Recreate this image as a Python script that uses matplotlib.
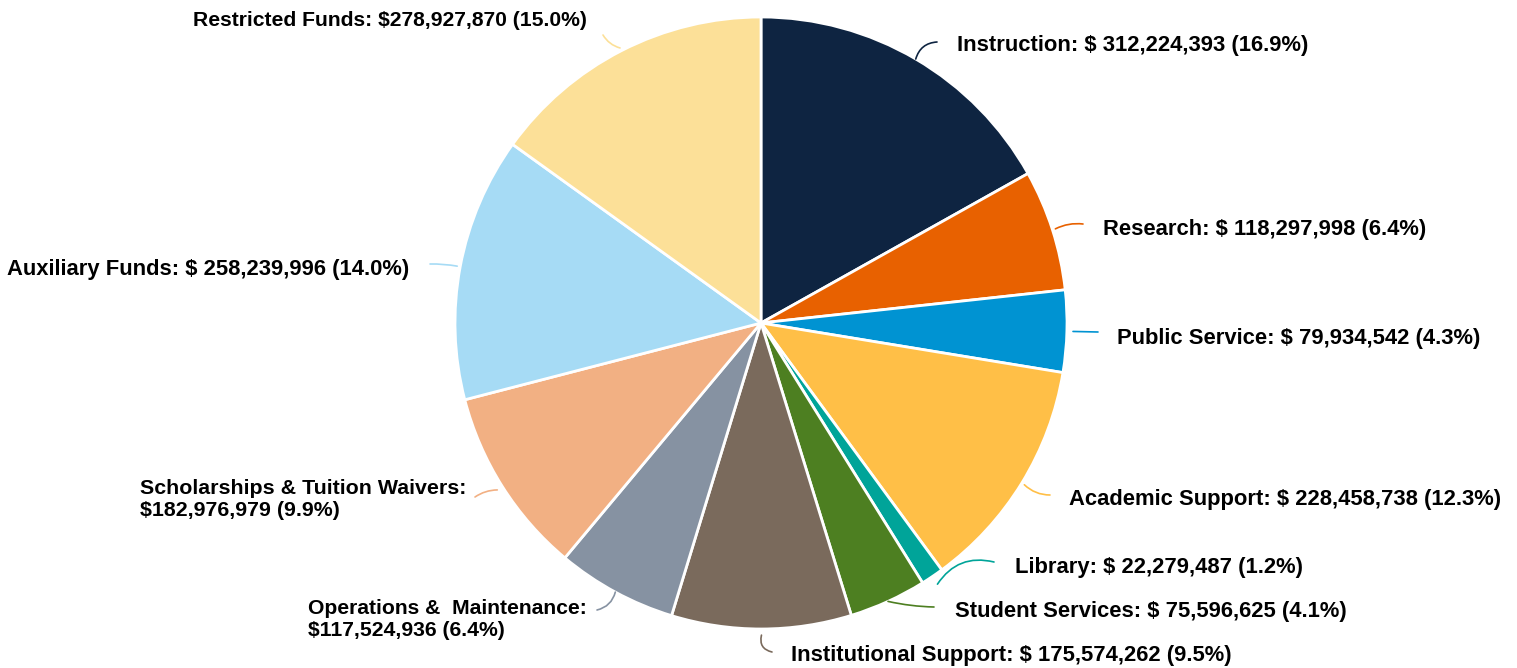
import matplotlib.pyplot as plt
import numpy as np

categories = ['Instruction', 'Research', 'Public Service', 'Academic Support',
              'Library', 'Student Services', 'Institutional Support',
              'Operations &  Maintenance', 'Scholarships & Tuition Waivers',
              'Auxiliary Funds', 'Restricted Funds']
amounts = [312224393, 118297998, 79934542, 228458738, 22279487, 75596625,
           175574262, 117524936, 182976979, 258239996, 278927870]
percents = [16.9, 6.4, 4.3, 12.3, 1.2, 4.1, 9.5, 6.4, 9.9, 14.0, 15.0]
colors = ['#0e2441', '#e86100', '#0093d2', '#ffbf47', '#00a499', '#4d7f21',
          '#7a6a5c', '#8692a2', '#f2b083', '#a6dbf5', '#fce098']

W, H = 1517, 668
cx, cy, R = 761, 323, 306


def px(x, y):
    # pixel position -> data units (pie radius = 1)
    return (x - cx) / R, (cy - y) / R


plt.rcParams['font.family'] = ['Liberation Sans', 'DejaVu Sans']
fig = plt.figure(figsize=(W / 100, H / 100), dpi=100)
ax = fig.add_axes([0, 0, 1, 1])

wedges, _ = ax.pie(amounts, colors=colors, startangle=90, counterclock=False,
                   radius=1, center=(0, 0),
                   wedgeprops=dict(edgecolor='white', linewidth=2))

ax.set_xlim(px(0, 0)[0], px(W, 0)[0])
ax.set_ylim(px(0, H)[1], px(0, 0)[1])
ax.set_aspect('equal')
ax.axis('off')


def money(a, space=True):
    return ('$ ' if space else '$') + f'{a:,}'


sep = [True, True, True, True, True, True, True, False, False, True, False]
texts = []
for i, name in enumerate(categories):
    glue = '\n' if i in (7, 8) else ' '
    texts.append(f'{name}:{glue}{money(amounts[i], sep[i])} ({percents[i]:.1f}%)')

# label anchor (px), horizontal alignment, font size
label_pos = [(957, 45, 'left'), (1103, 229, 'left'), (1117, 338, 'left'),
             (1069, 499, 'left'), (1015, 568, 'left'), (955, 611, 'left'),
             (791, 656, 'left'), (308, 619, 'left'), (140, 499, 'left'),
             (409, 269, 'right'), (587, 20, 'right')]
label_size = [15.8] * 7 + [15.25, 15.4, 15.8, 15.25]
leader_end = [(937, 42), (1083, 224), (1098, 332), (1050, 495), (994, 562),
              (934, 607), (772, 652), (597, 610), (475, 497), (430, 264),
              (603, 35)]
leader_rad = [-0.35, -0.15, 0.0, 0.2, -0.35, 0.05, 0.5, -0.3, 0.15, 0.05, -0.2]
start_r = [1.0, 1.01, 1.02, 1.01, 1.03, 1.0, 1.02, 1.0, 1.02, 1.01, 1.01]

for i, w in enumerate(wedges):
    ang = np.deg2rad((w.theta1 + w.theta2) / 2)
    sx, sy = start_r[i] * np.cos(ang), start_r[i] * np.sin(ang)
    ex, ey = px(*leader_end[i])
    ax.annotate('', xy=(ex, ey), xytext=(sx, sy),
                arrowprops=dict(arrowstyle='-', color=colors[i], lw=1.2,
                                shrinkA=0, shrinkB=0,
                                connectionstyle=f'arc3,rad={leader_rad[i]}'))
    lx, ly, ha = label_pos[i]
    tx, ty = px(lx, ly)
    ax.text(tx, ty, texts[i], ha=ha, va='center', fontsize=label_size[i],
            fontweight='bold', color='black', linespacing=1.2,
            multialignment='left')

fig.savefig('out.png', dpi=100)
